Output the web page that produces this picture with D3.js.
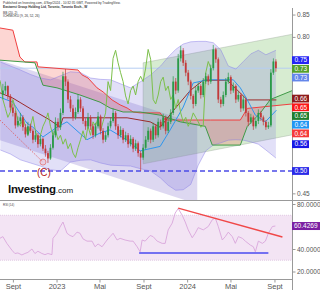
<!DOCTYPE html>
<html>
<head>
<meta charset="utf-8">
<script src="https://cdn.jsdelivr.net/npm/d3@7"></script>
<style>
  body { margin: 0; background: #fff; }
  svg { display: block; font-family: "Liberation Sans", Arial, sans-serif; }
</style>
</head>
<body>
<div id="container"></div>
<script>
// weekly candles, first bar is the week of 4 Aug 2022
const firstWeek = new Date(2022, 7, 4);

const opens = [0.670,0.680,0.690,0.668,0.642,0.630,0.602,0.612,0.620,0.598,0.582,0.600,0.590,0.570,0.580,0.560,0.572,0.550,0.540,0.528,
  0.552,0.580,0.610,0.598,0.630,0.712,0.700,0.660,0.640,0.620,0.632,0.660,0.640,0.612,0.600,0.620,0.600,0.580,0.600,0.622,
  0.590,0.570,0.580,0.600,0.612,0.630,0.600,0.580,0.592,0.570,0.580,0.560,0.572,0.550,0.562,0.540,0.530,0.552,0.570,0.590,
  0.570,0.600,0.580,0.610,0.600,0.620,0.590,0.610,0.630,0.700,0.680,0.752,0.770,0.742,0.720,0.700,0.668,0.650,0.680,0.690,
  0.670,0.700,0.712,0.700,0.730,0.772,0.750,0.660,0.650,0.670,0.700,0.710,0.680,0.690,0.660,0.670,0.640,0.660,0.630,0.610,
  0.620,0.600,0.612,0.630,0.620,0.610,0.598,0.602,0.720,0.745];
const highs = [0.695,0.700,0.692,0.672,0.650,0.635,0.622,0.630,0.625,0.605,0.610,0.606,0.595,0.590,0.585,0.580,0.575,0.558,0.545,0.560,
  0.590,0.620,0.618,0.640,0.722,0.728,0.705,0.668,0.648,0.642,0.672,0.665,0.645,0.618,0.630,0.625,0.605,0.608,0.632,0.626,
  0.596,0.588,0.608,0.620,0.640,0.634,0.605,0.600,0.596,0.588,0.585,0.580,0.576,0.570,0.566,0.545,0.560,0.578,0.598,0.595,
  0.608,0.605,0.618,0.615,0.628,0.624,0.618,0.638,0.712,0.708,0.762,0.780,0.775,0.748,0.726,0.704,0.672,0.688,0.698,0.694,
  0.708,0.720,0.716,0.738,0.782,0.776,0.754,0.666,0.678,0.708,0.720,0.714,0.698,0.694,0.678,0.674,0.668,0.664,0.634,0.628,
  0.624,0.618,0.638,0.634,0.624,0.614,0.610,0.728,0.752,0.750];
const lows = [0.660,0.672,0.660,0.635,0.622,0.595,0.598,0.605,0.590,0.575,0.578,0.585,0.562,0.565,0.552,0.555,0.545,0.532,0.518,0.525,
  0.548,0.575,0.590,0.592,0.625,0.690,0.652,0.632,0.612,0.615,0.628,0.632,0.605,0.592,0.595,0.592,0.572,0.575,0.595,0.582,
  0.562,0.565,0.575,0.595,0.608,0.592,0.572,0.575,0.562,0.565,0.552,0.555,0.542,0.545,0.532,0.500,0.525,0.548,0.565,0.562,
  0.565,0.572,0.575,0.592,0.595,0.582,0.585,0.605,0.625,0.672,0.675,0.745,0.735,0.712,0.692,0.660,0.640,0.645,0.675,0.662,
  0.665,0.695,0.692,0.695,0.725,0.742,0.652,0.642,0.645,0.665,0.695,0.672,0.675,0.652,0.655,0.632,0.635,0.622,0.600,0.605,
  0.592,0.595,0.605,0.612,0.602,0.592,0.594,0.598,0.715,0.722];
const closes = [0.680,0.690,0.668,0.642,0.630,0.602,0.612,0.620,0.598,0.582,0.600,0.590,0.570,0.580,0.560,0.572,0.550,0.540,0.528,0.552,
  0.580,0.610,0.598,0.630,0.712,0.700,0.660,0.640,0.620,0.632,0.660,0.640,0.612,0.600,0.620,0.600,0.580,0.600,0.622,0.590,
  0.570,0.580,0.600,0.612,0.630,0.600,0.580,0.592,0.570,0.580,0.560,0.572,0.550,0.562,0.540,0.530,0.552,0.570,0.590,0.570,
  0.600,0.580,0.610,0.600,0.620,0.590,0.610,0.630,0.700,0.680,0.752,0.770,0.742,0.720,0.700,0.668,0.650,0.680,0.690,0.670,
  0.700,0.712,0.700,0.730,0.772,0.750,0.660,0.650,0.670,0.700,0.710,0.680,0.690,0.660,0.670,0.640,0.660,0.630,0.610,0.620,
  0.600,0.612,0.630,0.620,0.610,0.598,0.602,0.720,0.745,0.730];

// ichimoku lines (week index, price)
const tenkanWeeks = [-1.2,4,6.8,9.6,12,16,21.6,25.6,29.6,33.6,38.8,42.8,49.6,54.8,58.8,62.8,66.8,72,76,81.6,92,94.8,97.6,100.8,104.8,109.2];
const tenkanValues = [0.665,0.654,0.630,0.607,0.598,0.576,0.598,0.610,0.590,0.570,0.585,0.592,0.569,0.545,0.550,0.555,0.592,0.643,0.697,0.704,0.704,0.686,0.659,0.625,0.610,0.636];
const kijunWeeks = [-1.2,4,12,18.8,22.8,24,49.6,58.8,62.8,68.8,74.8,80,89.6,97.6,109.2];
const kijunValues = [0.675,0.663,0.636,0.614,0.598,0.619,0.619,0.610,0.598,0.640,0.680,0.703,0.703,0.659,0.659];
const spanAWeeks = [-1.2,12.8,16,21.6,30.8,38.8,42.8,48,54.8,62.8,70.8,80.8,83.6,94.8,97.6,102.8,106.8,115.6];
const spanAValues = [0.748,0.742,0.692,0.686,0.670,0.654,0.641,0.632,0.632,0.625,0.610,0.600,0.558,0.558,0.600,0.630,0.660,0.680];
const spanBWeeks = [-1.2,4,6.8,8.8,13.6,14,30,31.6,34,37.6,40,43.6,46.8,49.6,52,54.8,62.8,64.8,82.8,94.8,97.6,115.6];
const spanBValues = [0.820,0.815,0.755,0.744,0.744,0.733,0.726,0.715,0.708,0.686,0.677,0.659,0.648,0.641,0.632,0.630,0.630,0.614,0.614,0.614,0.640,0.650];
const chikouShift = 26;

// bollinger bands (20, 2)
const bbWeeks = [-1,3,7,11,15,19,23,27,31,35,39,43,47,51,55,59,63,66,69,72,75,78,81,84,87,90,93,96,99,102,105,109];
const bbUpper = [0.744,0.735,0.726,0.716,0.708,0.704,0.713,0.722,0.720,0.708,0.705,0.704,0.695,0.686,0.700,0.715,0.735,0.755,0.772,0.784,0.789,0.790,0.790,0.787,0.771,0.735,0.728,0.745,0.762,0.770,0.760,0.770];
const bbLower = [0.547,0.538,0.525,0.518,0.511,0.503,0.500,0.520,0.524,0.525,0.518,0.513,0.512,0.511,0.505,0.500,0.484,0.468,0.457,0.458,0.470,0.513,0.545,0.558,0.563,0.569,0.570,0.569,0.565,0.560,0.547,0.529];

// drawn channels
const downWeeks = [-1.2, 77.6];
const downUpper = [0.748, 0.605];
const downLower = [0.569, 0.426];
const upWeeks = [56, 115.6];
const upUpper = [0.742, 0.806];
const upLower = [0.516, 0.581];

const supportLevel = 0.50;
const resistLevel = 0.73;
const waveWeeks = [-1.2, 16];
const waveValues = [0.614, 0.52];

// price scale labels
const tagValues = [0.748, 0.734, 0.730, 0.662, 0.652, 0.648, 0.642, 0.638, 0.560, 0.500];
const tagColors = ['#2424f5', '#55a02c', '#6486ea', '#8e1c1c', '#fb1818', '#1f7d2e', '#2196f3', '#f53a3a', '#1818e6', '#2a2ae8'];
const priceTicks = [0.45, 0.50, 0.55, 0.60, 0.65, 0.70, 0.75, 0.80, 0.85];

// RSI (14)
const rsiWeeks = [-1.2,0,1.6,3.6,4.8,6,7.6,8.8,10,11.6,12.8,14,15.6,16.8,18,19.6,20,21.6,22.8,24,25.6,26.8,28,29.6,30.8,32,33.6,35.6,36.8,38,39.6,41.6,42.8,44,45.6,46.8,48.8,50.8,52,53.6,54.8,55.6,56.8,58.8,60,61.6,63.6,64.8,66,67.6,68.8,70,71.6,72.8,74,75.6,76.8,78,80,82,83.6,84.8,86,87.6,88.8,90,91.6,92.8,94,95.6,96.8,98.8,100,100.8,102,103.6,104.8,106,107.6,108.8];
const rsiValues = [49.5,51,45,39,36,36.5,34.7,36,37,40,36,38,36,35,36,35,49.5,54,59.5,64,54,52,51,55,54,49,47,47,42,44.5,42,48,51,54,48,49.5,48,47,47,42,37.5,48,47,52,51,47,45,45,57,63,72,76,70,64,57,50,54,59,57,60,66,67.5,60,48,51,55,51,45,51,49.5,47,43.5,42,37.5,47,45,47,54,60,60.4269];
const rsiTicks = [20, 40, 80];
const rsiTrendWeeks = [70, 111.6];
const rsiTrendValues = [76.4, 50.7];
const rsiFloorWeeks = [54.4, 106];
const rsiFloorValue = 36.5;

const tickDates = [new Date(2022, 8, 1), new Date(2023, 0, 1), new Date(2023, 4, 1), new Date(2023, 8, 1), new Date(2024, 0, 1), new Date(2024, 4, 1), new Date(2024, 8, 1)];
const tickLabels = ['Sept', '2023', 'Mai', 'Sept', '2024', 'Mai', 'Sept'];

function weekDate(w) {
  return new Date(firstWeek.getTime() + w * 7 * 864e5);
}

const svgWidth = 320;
const svgHeight = 290;
const axisX = 292;
const paneBottom = 200;

const x = d3.scaleTime()
  .domain([new Date(2022, 6, 27), new Date(2024, 9, 20)])
  .range([0, axisX]);
const y = d3.scaleLinear().domain([0.45, 0.85]).range([193.35, 14.55]);
const yr = d3.scaleLinear().domain([20, 80]).range([271.5, 204]);

const svg = d3.select('#container').append('svg')
  .attr('width', svgWidth)
  .attr('height', svgHeight);

const defs = svg.append('defs');
defs.append('clipPath').attr('id', 'mainClip')
  .append('rect').attr('x', 0).attr('y', 0).attr('width', axisX).attr('height', paneBottom);
defs.append('clipPath').attr('id', 'rsiClip')
  .append('rect').attr('x', 0).attr('y', 201).attr('width', axisX).attr('height', 78);

const main = svg.append('g').attr('clip-path', 'url(#mainClip)');

// helper to build a line from week / value arrays
function weekLine(weeks, values, scale) {
  return d3.line()
    .x((d, i) => x(weekDate(weeks[i])))
    .y((d, i) => scale(values[i]))(weeks);
}

// regression channels
const chanArea = (weeks, lo, hi) => d3.area()
  .x((d, i) => x(weekDate(weeks[i])))
  .y0((d, i) => y(lo[i]))
  .y1((d, i) => y(hi[i]))(weeks);

main.append('path').attr('d', chanArea(downWeeks, downLower, downUpper))
  .attr('fill', 'rgba(120,100,200,0.25)');
main.append('path').attr('d', chanArea(upWeeks, upLower, upUpper))
  .attr('fill', 'rgba(110,185,90,0.28)')
  .attr('stroke', 'rgba(150,160,150,0.6)').attr('stroke-width', 0.6);

// bollinger band fill
main.append('path').attr('d', chanArea(bbWeeks, bbLower, bbUpper))
  .attr('fill', 'rgba(110,100,220,0.2)');

// ichimoku cloud, coloured by which span is on top
const spanArea = (weeks, values, toTop) => d3.area()
  .x((d, i) => x(weekDate(weeks[i])))
  .y0(toTop ? 0 : paneBottom)
  .y1((d, i) => y(values[i]))(weeks);

defs.append('clipPath').attr('id', 'aboveA').append('path').attr('d', spanArea(spanAWeeks, spanAValues, true));
defs.append('clipPath').attr('id', 'aboveB').append('path').attr('d', spanArea(spanBWeeks, spanBValues, true));

main.append('g').attr('clip-path', 'url(#aboveA)')
  .append('path').attr('d', spanArea(spanBWeeks, spanBValues, false))
  .attr('fill', 'rgba(244,67,54,0.22)');
main.append('g').attr('clip-path', 'url(#aboveB)')
  .append('path').attr('d', spanArea(spanAWeeks, spanAValues, false))
  .attr('fill', 'rgba(76,175,80,0.22)');

// horizontal levels
main.append('line')
  .attr('x1', 0).attr('x2', axisX)
  .attr('y1', y(resistLevel)).attr('y2', y(resistLevel))
  .attr('stroke', '#b5cdf2').attr('stroke-width', 1);
main.append('line')
  .attr('x1', 0).attr('x2', axisX)
  .attr('y1', y(supportLevel)).attr('y2', y(supportLevel))
  .attr('stroke', '#4b4be6').attr('stroke-width', 1.3)
  .attr('stroke-dasharray', '5,3');

// indicator lines
function drawLine(weeks, values, color, width) {
  main.append('path')
    .attr('d', weekLine(weeks, values, y))
    .attr('fill', 'none')
    .attr('stroke', color)
    .attr('stroke-width', width);
}
drawLine(bbWeeks, bbUpper, 'rgba(130,120,230,0.55)', 0.8);
drawLine(bbWeeks, bbLower, 'rgba(130,120,230,0.55)', 0.8);
drawLine(spanBWeeks, spanBValues, '#f04040', 1);
drawLine(spanAWeeks, spanAValues, '#3f9a47', 1);
drawLine(kijunWeeks, kijunValues, '#9c2b2b', 1);
drawLine(tenkanWeeks, tenkanValues, '#2f96ee', 1);

// lagging span: closes moved back
main.append('path')
  .attr('d', d3.line()
    .x((d, i) => x(weekDate(i - chikouShift)))
    .y(d => y(d))(closes))
  .attr('fill', 'none')
  .attr('stroke', '#7cc04a')
  .attr('stroke-width', 1);

// candles
const candles = main.append('g');
closes.forEach(function (c, i) {
  const cx = x(weekDate(i));
  const up = c >= opens[i];
  const col = up ? '#2a9a48' : '#c23a3a';
  candles.append('line')
    .attr('x1', cx).attr('x2', cx)
    .attr('y1', y(highs[i])).attr('y2', y(lows[i]))
    .attr('stroke', col).attr('stroke-width', 0.7);
  const top = y(Math.max(c, opens[i]));
  const bot = y(Math.min(c, opens[i]));
  candles.append('rect')
    .attr('x', cx - 0.9).attr('width', 1.8)
    .attr('y', top).attr('height', Math.max(0.8, bot - top))
    .attr('fill', col);
});

// wave annotation (C)
main.append('path')
  .attr('d', weekLine(waveWeeks, waveValues, y))
  .attr('stroke', '#e05050').attr('stroke-width', 0.8)
  .attr('stroke-dasharray', '1.5,1.5').attr('fill', 'none');
main.append('circle')
  .attr('cx', x(weekDate(waveWeeks[1]))).attr('cy', y(waveValues[1]))
  .attr('r', 3)
  .attr('fill', 'rgba(255,120,120,0.15)').attr('stroke', '#e57373').attr('stroke-width', 0.8);
main.append('text')
  .attr('x', x(weekDate(waveWeeks[1])) + 1).attr('y', y(waveValues[1]) + 14)
  .attr('text-anchor', 'middle')
  .attr('font-size', 10).attr('fill', '#b22222')
  .text('(C)');

// logo
const logo = svg.append('text').attr('x', 8).attr('y', 193);
logo.append('tspan').attr('font-size', 11.5).attr('font-weight', 'bold').attr('fill', '#111').attr('letter-spacing', -0.3).text('Investing');
logo.append('tspan').attr('font-size', 8).attr('fill', '#222').text('.com');

// header
const header = svg.append('g').attr('fill', '#333').attr('font-size', 3.2);
header.append('text').attr('x', 3).attr('y', 4).text('Published on Investing.com, 4/Sep/2024 - 10:32:35 GMT, Powered by TradingView.');
header.append('text').attr('x', 3).attr('y', 8.2).attr('font-weight', 'bold').text('Eastwest Group Holding Ltd, Toronto, Toronto Exch., W');
header.append('text').attr('x', 3).attr('y', 13.5).text('BB (20, 2)');
header.append('text').attr('x', 3).attr('y', 17.3).text('ICHIMOKU (9, 26, 52, 26)');

// pane separators
svg.append('line').attr('x1', 0).attr('x2', svgWidth).attr('y1', 200.5).attr('y2', 200.5).attr('stroke', '#999').attr('stroke-width', 1);
svg.append('line').attr('x1', 0).attr('x2', axisX).attr('y1', 279.5).attr('y2', 279.5).attr('stroke', '#999').attr('stroke-width', 1);
svg.append('line').attr('x1', axisX + 0.5).attr('x2', axisX + 0.5).attr('y1', 8).attr('y2', svgHeight).attr('stroke', '#999').attr('stroke-width', 1);

// price tags, stacked so they do not overlap
const tags = tagValues.map((v, i) => ({ v: v, color: tagColors[i], cy: y(v) }))
  .sort((a, b) => a.cy - b.cy);
for (let i = 1; i < tags.length; i++) {
  if (tags[i].cy < tags[i - 1].cy + 8.7) tags[i].cy = tags[i - 1].cy + 8.7;
}

// price axis, ticks hidden where a tag covers them
const freeTicks = priceTicks.filter(t => tags.every(g => Math.abs(g.cy - y(t)) > 6));
const yAxis = d3.axisRight(y).tickValues(freeTicks).tickFormat(d3.format('.2f')).tickSize(3).tickPadding(1.5);
const yg = svg.append('g').attr('transform', `translate(${axisX + 0.5},0)`).call(yAxis);
yg.select('.domain').remove();
yg.selectAll('line').attr('stroke', '#999');
yg.selectAll('text').attr('font-size', 6.5).attr('fill', '#555').attr('font-family', '"Liberation Sans", Arial, sans-serif');

const tagG = svg.append('g');
tags.forEach(function (t) {
  tagG.append('rect')
    .attr('x', axisX).attr('y', t.cy - 3.9).attr('width', 17).attr('height', 7.8)
    .attr('fill', t.color);
  tagG.append('text')
    .attr('x', axisX + 2.5).attr('y', t.cy + 2.3)
    .attr('font-size', 6.5).attr('fill', '#fff')
    .text(d3.format('.2f')(t.v));
});

// RSI pane
const rsi = svg.append('g').attr('clip-path', 'url(#rsiClip)');
rsi.append('rect')
  .attr('x', 0).attr('width', axisX)
  .attr('y', yr(70)).attr('height', yr(30) - yr(70))
  .attr('fill', '#f3e4f4');
[70, 30].forEach(function (lvl) {
  rsi.append('line').attr('x1', 0).attr('x2', axisX)
    .attr('y1', yr(lvl)).attr('y2', yr(lvl))
    .attr('stroke', '#d2b4d6').attr('stroke-width', 0.6).attr('stroke-dasharray', '1,1');
});
rsi.append('path')
  .attr('d', weekLine(rsiWeeks, rsiValues, yr))
  .attr('fill', 'none').attr('stroke', '#d9a6db').attr('stroke-width', 0.9);
rsi.append('path')
  .attr('d', weekLine(rsiTrendWeeks, rsiTrendValues, yr))
  .attr('stroke', '#f04848').attr('stroke-width', 1.4);
rsi.append('path')
  .attr('d', weekLine(rsiFloorWeeks, [rsiFloorValue, rsiFloorValue], yr))
  .attr('stroke', '#4a4af0').attr('stroke-width', 1.4);

svg.append('text').attr('x', 3).attr('y', 205.5).attr('font-size', 3).attr('fill', '#444').text('RSI (14)');

const rAxis = d3.axisRight(yr).tickValues(rsiTicks).tickFormat(d3.format('.4f')).tickSize(3).tickPadding(1.5);
const rg = svg.append('g').attr('transform', `translate(${axisX + 0.5},0)`).call(rAxis);
rg.select('.domain').remove();
rg.selectAll('line').attr('stroke', '#999');
rg.selectAll('text').attr('font-size', 6.5).attr('fill', '#555').attr('font-family', '"Liberation Sans", Arial, sans-serif');

const lastRsi = rsiValues[rsiValues.length - 1];
svg.append('rect')
  .attr('x', axisX).attr('y', yr(lastRsi) - 4).attr('width', 28).attr('height', 8)
  .attr('fill', '#7b1fa2');
svg.append('text')
  .attr('x', axisX + 2).attr('y', yr(lastRsi) + 2.4)
  .attr('font-size', 6.5).attr('fill', '#fff')
  .text(d3.format('.4f')(lastRsi));

// time axis
const xAxis = d3.axisBottom(x).tickValues(tickDates).tickFormat((d, i) => tickLabels[i]).tickSize(3).tickPadding(1.5);
const xg = svg.append('g').attr('transform', 'translate(0,279.5)').call(xAxis);
xg.select('.domain').remove();
xg.selectAll('line').attr('stroke', '#999');
xg.selectAll('text').attr('font-size', 7.5).attr('fill', '#555').attr('font-family', '"Liberation Sans", Arial, sans-serif');
</script>
</body>
</html>
